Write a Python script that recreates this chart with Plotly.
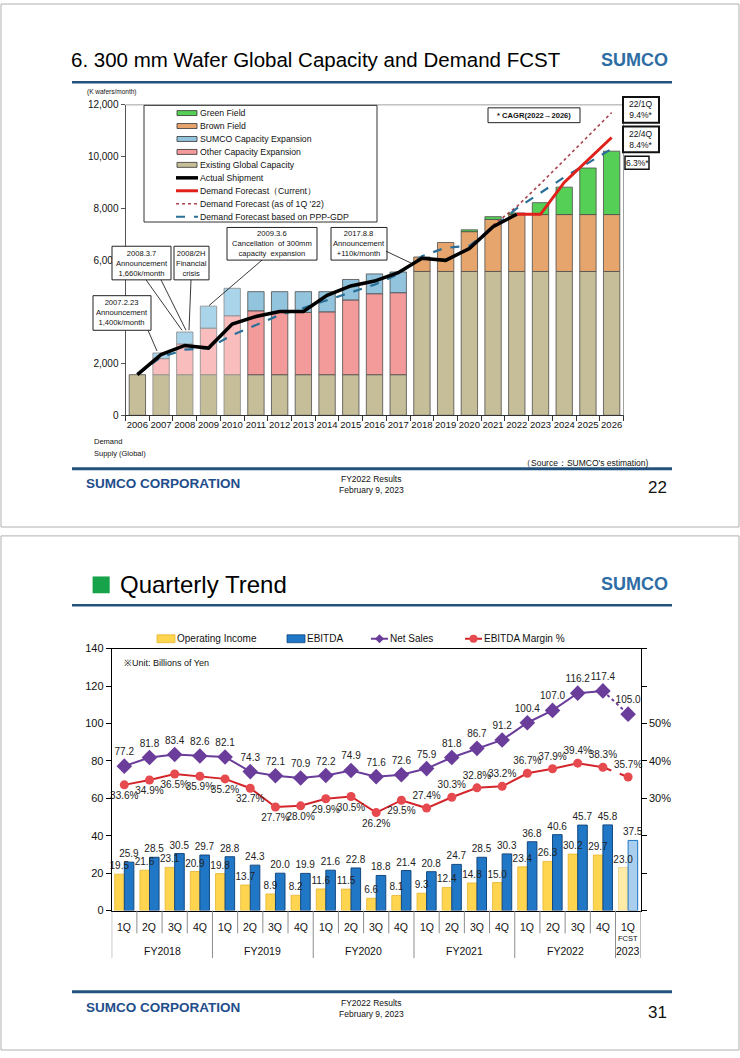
import plotly.graph_objects as go

W, H = 740, 1058
FN = "Liberation Sans, Arial, sans-serif"

# ---------------- Slide 22 : 300mm wafer capacity & demand ----------------
years = ["2006", "2007", "2008", "2009", "2010", "2011", "2012", "2013", "2014", "2015", "2016",
         "2017", "2018", "2019", "2020", "2021", "2022", "2023", "2024", "2025", "2026"]
existing_capacity = [1570, 1570, 1570, 1570, 1570, 1570, 1570, 1570, 1570, 1570, 1570, 1570,
                     5560, 5560, 5560, 5560, 5560, 5560, 5560, 5560, 5560]
other_expansion = [0, 620, 1190, 1800, 2280, 2470, 2410, 2410, 2430, 2890, 3130, 3170,
                   0, 0, 0, 0, 0, 0, 0, 0, 0]
sumco_expansion = [0, 220, 460, 850, 1060, 740, 800, 800, 780, 790, 765, 800,
                   0, 0, 0, 0, 0, 0, 0, 0, 0]
brown_field = [0, 0, 0, 0, 0, 0, 0, 0, 0, 0, 0, 0,
               560, 1120, 1540, 2010, 2200, 2200, 2200, 2200, 2200]
green_field = [0, 0, 0, 0, 0, 0, 0, 0, 0, 0, 0, 0,
               0, 0, 70, 110, 60, 460, 1060, 1800, 2450]
actual_years = years[:17]
actual_shipment = [1570, 2345, 2700, 2600, 3530, 3820, 4010, 4010, 4640, 5000, 5190, 5510,
                   6070, 5990, 6450, 7290, 7770]
current_years = years[16:]
fcst_current = [7770, 7770, 9000, 9870, 10740]
q1_22_years = years[15:]
fcst_1q22 = [7350, 8070, 8950, 9870, 10780, 11700]
ppp_gdp = [1570, 2250, 2540, 2600, 3100, 3500, 3880, 4150, 4450, 4750, 5050, 5450,
           6150, 6480, 6550, 7250, 8000, 8600, 9200, 9750, 10300]
demand_supply = ["100%", "98%", "84%", "62%", "72%", "80%", "84%", "83%", "97%", "95%", "95%",
                 "100%", "100%", "89%", "91%", "95%", "99%", "94%", "102%", "104%", "105%"]
y_tickvals = [0, 2000, 4000, 6000, 8000, 10000, 12000]
y_ticktext = ["0", "2,000", "", "6,000", "8,000", "10,000", "12,000"]   # 4,000 is hidden by a callout

# ---------------- Slide 31 : quarterly trend ----------------
fiscal_years = ["FY2018"] * 4 + ["FY2019"] * 4 + ["FY2020"] * 4 + ["FY2021"] * 4 + ["FY2022"] * 4 + ["FY2023"]
quarters = ["1Q", "2Q", "3Q", "4Q"] * 5 + ["1Q"]
operating_income = [19.5, 21.6, 23.1, 20.9, 19.8, 13.7, 8.9, 8.2, 11.6, 11.5, 6.6, 8.1,
                    9.3, 12.4, 14.8, 15.0, 23.4, 26.3, 30.2, 29.7, 23.0]
ebitda = [25.9, 28.5, 30.5, 29.7, 28.8, 24.3, 20.0, 19.9, 21.6, 22.8, 18.8, 21.4,
          20.8, 24.7, 28.5, 30.3, 36.8, 40.6, 45.7, 45.8, 37.5]
net_sales = [77.2, 81.8, 83.4, 82.6, 82.1, 74.3, 72.1, 70.9, 72.2, 74.9, 71.6, 72.6,
             75.9, 81.8, 86.7, 91.2, 100.4, 107.0, 116.2, 117.4, 105.0]
ebitda_margin = [33.6, 34.9, 36.5, 35.9, 35.2, 32.7, 27.7, 28.0, 29.9, 30.5, 26.2, 29.5,
                 27.4, 30.3, 32.8, 33.2, 36.7, 37.9, 39.4, 38.3, 35.7]
group_labels = ["FY2018", "FY2019", "FY2020", "FY2021", "FY2022"]


def PX(x):
    return x / W


def PY(y):
    return 1 - y / H


fig = go.Figure()

# ---------- top chart stacked bars ----------
n = len(years)
light = [1 <= i <= 4 for i in range(n)]
seg_specs = [
    (existing_capacity, ["#C6BE98"] * n),
    (other_expansion, ["#F9BDBD" if l else "#F39A9B" for l in light]),
    (sumco_expansion, ["#A9D4EA" if l else "#92C4DE" for l in light]),
    (brown_field, ["#E6A56C"] * n),
    (green_field, ["#56CF56"] * n),
]
base = [0] * n
for vals, cols in seg_specs:
    yv = [v if v > 0 else None for v in vals]
    fig.add_trace(go.Bar(
        x=years, y=yv, base=base[:], xaxis="x", yaxis="y",
        width=0.69, offset=-0.345,
        marker=dict(color=cols, line=dict(color=["#8a8a8a" if l else "#4d4d4d" for l in light], width=0.8)),
        showlegend=False, hoverinfo="skip"))
    base = [b + v for b, v in zip(base, vals)]

fig.add_trace(go.Scatter(x=q1_22_years, y=fcst_1q22, mode="lines", xaxis="x", yaxis="y",
                         line=dict(color="#A8434F", width=1.6, dash="dot"), showlegend=False))
fig.add_trace(go.Scatter(x=years, y=ppp_gdp, mode="lines", xaxis="x", yaxis="y",
                         line=dict(color="#2A6F98", width=2.2, dash="dash"), showlegend=False))
fig.add_trace(go.Scatter(x=current_years, y=fcst_current, mode="lines", xaxis="x", yaxis="y",
                         line=dict(color="#E0201B", width=3), showlegend=False))
fig.add_trace(go.Scatter(x=actual_years, y=actual_shipment, mode="lines", xaxis="x", yaxis="y",
                         line=dict(color="#000000", width=3.5), showlegend=False))

# ---------- bottom chart ----------
cats = [f"{f} {q}" for f, q in zip(fiscal_years, quarters)]
m = len(cats)
LBL = dict(family=FN, size=10, color="#222")
fig.add_trace(go.Bar(
    x=cats, y=operating_income, xaxis="x2", yaxis="y2", width=0.38, offset=-0.38,
    marker=dict(color=["#FFD54F"] * (m - 1) + ["#FFEBA8"],
                line=dict(color=["#E5B52E"] * (m - 1) + ["#E8CF84"], width=0.8)),
    showlegend=False, hoverinfo="skip"))
fig.add_trace(go.Bar(
    x=cats, y=ebitda, xaxis="x2", yaxis="y2", width=0.38, offset=0.0,
    marker=dict(color=["#1F77C6"] * (m - 1) + ["#A9CEEE"],
                line=dict(color=["#14487F"] * (m - 1) + ["#1F77C6"], width=1)),
    texttemplate="%{y:.1f}", textposition="outside", constraintext="none", cliponaxis=False,
    textfont=LBL, showlegend=False, hoverinfo="skip"))
# operating-income value labels drawn on top of the EBITDA bars
fig.add_trace(go.Bar(
    x=cats, y=operating_income, xaxis="x2", yaxis="y2", width=0.38, offset=-0.38,
    marker=dict(color="rgba(0,0,0,0)", line=dict(width=0)),
    texttemplate="%{y:.1f}", textposition="outside", constraintext="none", cliponaxis=False,
    textfont=LBL, showlegend=False, hoverinfo="skip"))

PURPLE = "#6A3D9A"
RED = "#D3262B"
fig.add_trace(go.Scatter(x=cats[:m - 1], y=net_sales[:m - 1], mode="lines", xaxis="x2", yaxis="y2",
                         line=dict(color=PURPLE, width=2), showlegend=False))
fig.add_trace(go.Scatter(x=cats[m - 2:], y=net_sales[m - 2:], mode="lines", xaxis="x2", yaxis="y2",
                         line=dict(color=PURPLE, width=2, dash="dot"), showlegend=False))
fig.add_trace(go.Scatter(x=cats, y=net_sales, mode="markers+text", xaxis="x2", yaxis="y2",
                         marker=dict(symbol="diamond", size=12, color=PURPLE),
                         text=[f"{v:.1f}" for v in net_sales], textposition="top center",
                         textfont=LBL, cliponaxis=False, showlegend=False))
margin_frac = [v / 100 for v in ebitda_margin]
fig.add_trace(go.Scatter(x=cats[:m - 1], y=margin_frac[:m - 1], mode="lines", xaxis="x2", yaxis="y3",
                         line=dict(color=RED, width=2), showlegend=False))
fig.add_trace(go.Scatter(x=cats[m - 2:], y=margin_frac[m - 2:], mode="lines", xaxis="x2", yaxis="y3",
                         line=dict(color=RED, width=2, dash="dash"), showlegend=False))
fig.add_trace(go.Scatter(x=cats, y=margin_frac, mode="markers+text", xaxis="x2", yaxis="y3",
                         marker=dict(symbol="circle", size=9, color="#E64A4E"),
                         text=[f"{v:.1f}%" for v in ebitda_margin],
                         textposition=["bottom center"] * 12 + ["top center"] * (m - 12),
                         textfont=LBL, cliponaxis=False, showlegend=False))

shapes = []
annotations = []


def txt(x, y, s, size, color="#111", xanchor="center", yanchor="middle", xref="paper", yref="paper",
        family=FN, align="center"):
    annotations.append(dict(x=x if xref != "paper" else PX(x), y=PY(y) if yref == "paper" else y,
                            xref=xref, yref=yref, text=s, showarrow=False, align=align,
                            font=dict(size=size, color=color, family=family),
                            xanchor=xanchor, yanchor=yanchor, borderpad=0))


def rect(x0, y0, x1, y1, line="#000", lw=1, fill="white"):
    shapes.append(dict(type="rect", xref="paper", yref="paper", x0=PX(x0), x1=PX(x1), y0=PY(y0), y1=PY(y1),
                       line=dict(color=line, width=lw), fillcolor=fill, layer="above"))


def seg(x0, y0, x1, y1, color="#000", lw=1, dash="solid"):
    shapes.append(dict(type="line", xref="paper", yref="paper", x0=PX(x0), x1=PX(x1), y0=PY(y0), y1=PY(y1),
                       line=dict(color=color, width=lw, dash=dash), layer="above"))


BLUE = "#24527E"
# slide frames
rect(1, -2, 739, 527, line="#B0B0B0", lw=1, fill="rgba(0,0,0,0)")
rect(1, 536, 739, 1056, line="#B0B0B0", lw=1, fill="rgba(0,0,0,0)")

# ----- slide 1 header/footer -----
txt(70, 54, "6. 300 mm Wafer Global Capacity and Demand FCST", 20.5, color="#000", xanchor="left")
txt(634, 55, "<b>SUMCO</b>", 18, color="#2E6DA4")
seg(72, 77, 672, 77, color=BLUE, lw=2.5)
seg(72, 468, 672, 468, color=BLUE, lw=3)
txt(85, 483, "<b>SUMCO CORPORATION</b>", 13.5, color="#1F4E8C", xanchor="left")
txt(371, 478, "FY2022 Results", 8.5)
txt(371, 490, "February 9, 2023", 8.5)
txt(668, 487, "22", 17, xanchor="right")
txt(650, 462, "（Source：SUMCO's estimation)", 8.5, xanchor="right")
txt(86, 87, "(K wafers/month)", 6.5, xanchor="left")

# top chart frame lines (top & right)
seg(125.5, 100, 623.5, 100, color="#A0A0A0", lw=1)
seg(623.5, 100, 623.5, 414, color="#A0A0A0", lw=1)

# demand/supply row
txt(93, 441, "Demand", 7.5, xanchor="left")
txt(93, 453, "Supply (Global)", 7.5, xanchor="left")
for yr, pct in zip(years, demand_supply):
    txt(yr, 441, pct, 7, xref="x")

# legend box (top)
rect(144, 100.5, 377, 218.5, line="#333", lw=1)
leg_items = [
    ("rect", "#56CF56", "Green Field"),
    ("rect", "#E6A56C", "Brown Field"),
    ("rect", "#92C4DE", "SUMCO Capacity Expansion"),
    ("rect", "#F39A9B", "Other Capacity Expansion"),
    ("rect", "#C6BE98", "Existing Global Capacity"),
    ("line", ("#000000", 3.5, "solid"), "Actual Shipment"),
    ("line", ("#E0201B", 3, "solid"), "Demand Forecast（Current）"),
    ("line", ("#A8434F", 1.5, "dot"), "Demand Forecast (as of 1Q '22)"),
    ("line", ("#2A6F98", 2, "dash"), "Demand Forecast based on PPP-GDP"),
]
for i, (kind, sty, label) in enumerate(leg_items):
    yy = 108.3 + 13.1 * i
    if kind == "rect":
        rect(177, yy - 2.5, 197, yy + 2.5, line="#333", lw=0.8, fill=sty)
    else:
        seg(176, yy, 198, yy, color=sty[0], lw=sty[1], dash=sty[2])
    txt(199, yy, label, 8.7, xanchor="left")

# callouts
callouts = [
    (93, 293, 151, 328, "2007.2.23<br>Announcement<br>1,400k/month"),
    (112, 243, 171, 277, "2008.3.7<br>Announcement<br>1,660k/month"),
    (174, 243, 209, 277, "2008/2H<br>Financial<br>crisis"),
    (227, 224, 317, 257, "2009.3.6<br>Cancellation  of 300mm<br>capacity  expansion"),
    (331, 224, 387, 257, "2017.8.8<br>Announcement<br>+110k/month"),
]
for x0, y0, x1, y1, s in callouts:
    rect(x0, y0, x1, y1, line="#222", lw=1)
    txt((x0 + x1) / 2, (y0 + y1) / 2, s, 7.6)
for (a, b, c, d) in [(148, 328, 157, 349), (146, 277, 182, 328), (161, 277, 186, 328),
                     (191, 277, 189, 328), (262, 257, 209, 303), (386, 248, 411, 260)]:
    seg(a, b, c, d, color="#222", lw=0.9)

# CAGR boxes
rect(488, 103, 580, 118, line="#222", lw=1)
txt(534, 110.5, "<b>* CAGR(2022→2026)</b>", 7.6)
rect(623, 92, 659, 118, line="#111", lw=2)
txt(641, 105, "22/1Q<br>9.4%*", 8.5)
rect(623, 122, 659, 148, line="#111", lw=2)
txt(641, 135, "22/4Q<br>8.4%*", 8.5)
rect(625, 152, 649, 165, line="#111", lw=1.5)
txt(637, 158.5, "6.3%*", 8.5)

# ----- slide 2 header/footer -----
rect(92.6, 577, 109.7, 594, line="#17A34A", lw=0, fill="#17A34A")
txt(119, 585, "Quarterly Trend", 24, color="#000", xanchor="left")
txt(634, 585, "<b>SUMCO</b>", 18, color="#2E6DA4")
seg(72, 606, 672, 606, color=BLUE, lw=2.5)
seg(72, 997, 672, 997, color=BLUE, lw=3)
txt(85, 1013, "<b>SUMCO CORPORATION</b>", 13.5, color="#1F4E8C", xanchor="left")
txt(371, 1008, "FY2022 Results", 8.5)
txt(371, 1020, "February 9, 2023", 8.5)
txt(668, 1018, "31", 17, xanchor="right")

txt(123, 665, "※Unit: Billions of Yen", 9, xanchor="left")

# bottom legend (manual)
rect(157, 636, 175, 644, line="#E5B52E", lw=0.8, fill="#FFD54F")
txt(176, 640, "Operating Income", 10, xanchor="left")
rect(287, 636, 305, 644, line="#14487F", lw=0.8, fill="#1F77C6")
txt(306, 640, "EBITDA", 10, xanchor="left")
seg(371, 640, 388, 640, color=PURPLE, lw=2)
shapes.append(dict(type="path", xref="paper", yref="paper",
                   path=f"M {PX(379.5)},{PY(635.5)} L {PX(384)},{PY(640)} L {PX(379.5)},{PY(644.5)} L {PX(375)},{PY(640)} Z",
                   fillcolor=PURPLE, line=dict(color=PURPLE, width=0), layer="above"))
txt(389, 640, "Net Sales", 10, xanchor="left")
seg(465, 640, 482, 640, color=RED, lw=2)
shapes.append(dict(type="circle", xref="paper", yref="paper", x0=PX(469.5), x1=PX(477.5), y0=PY(644), y1=PY(636),
                   fillcolor="#E64A4E", line=dict(color="#E64A4E", width=0), layer="above"))
txt(483, 640, "EBITDA Margin %", 10, xanchor="left")

# bottom x-axis labels and separators
for i, q in enumerate(quarters):
    txt(i, 932, q, 10.5, xref="x2")
for g, lab in enumerate(group_labels):
    txt(g * 4 + 1.5, 956, lab, 10.5, xref="x2")
txt(20, 943, "FCST", 7.5, xref="x2")
txt(20, 956, "2023", 10.5, xref="x2")
for i in range(m - 1):
    bnd = i + 0.5
    long_line = (i + 1) % 4 == 0
    shapes.append(dict(type="line", xref="x2", yref="paper", x0=bnd, x1=bnd,
                       y0=PY(915), y1=PY(963 if long_line else 938),
                       line=dict(color="#8C8C8C", width=1), layer="above"))
for bnd in (-0.5, m - 0.5):
    shapes.append(dict(type="line", xref="x2", yref="paper", x0=bnd, x1=bnd,
                       y0=PY(915), y1=PY(963), line=dict(color="#8C8C8C", width=1), layer="above"))

axis_font = dict(family=FN, size=9.5, color="#111")
fig.update_layout(
    width=W, height=H, margin=dict(l=0, r=0, t=0, b=0),
    paper_bgcolor="white", plot_bgcolor="white", barmode="overlay", showlegend=False,
    font=dict(family=FN, color="#111"),
    xaxis=dict(domain=[PX(125.5), PX(623.5)], anchor="y", type="category", categoryorder="array",
               categoryarray=years, range=[-0.5, n - 0.5], ticks="outside", tickson="boundaries",
               ticklen=5, tickcolor="#333", showline=True, linecolor="#333", linewidth=1,
               showgrid=False, tickfont=axis_font, tickangle=0, fixedrange=True),
    yaxis=dict(domain=[PY(414), PY(100)], anchor="x", range=[0, 12000],
               tickvals=y_tickvals, ticktext=y_ticktext,
               ticks="outside", ticklen=4, tickcolor="#555", showline=True, linecolor="#555",
               showgrid=False, zeroline=False, tickfont=dict(family=FN, size=10, color="#111")),
    xaxis2=dict(domain=[PX(111.7), PX(640.7)], anchor="y2", type="category", categoryorder="array",
                categoryarray=cats, range=[-0.5, m - 0.5], showticklabels=False, ticks="",
                showline=True, linecolor="#000", linewidth=1, mirror=True, showgrid=False),
    yaxis2=dict(domain=[PY(915), PY(650)], anchor="x2", range=[0, 140], dtick=20,
                ticks="outside", ticklen=5, tickcolor="#000", showline=True, linecolor="#000",
                showgrid=False, zeroline=False, tickfont=dict(family=FN, size=11, color="#111")),
    yaxis3=dict(overlaying="y2", anchor="x2", side="right", range=[0, 0.7],
                tickvals=[0, 0.1, 0.2, 0.3, 0.4, 0.5, 0.6, 0.7],
                ticktext=["", "", "", "30%", "40%", "50%", "", ""],
                ticks="outside", ticklen=5, tickcolor="#000", showline=True, linecolor="#000",
                showgrid=False, zeroline=False, tickfont=dict(family=FN, size=11, color="#111")),
    shapes=shapes, annotations=annotations,
)

fig.write_html("out.html", config={"displayModeBar": False},
               post_script="document.body.style.margin='0';document.body.style.padding='0';")
